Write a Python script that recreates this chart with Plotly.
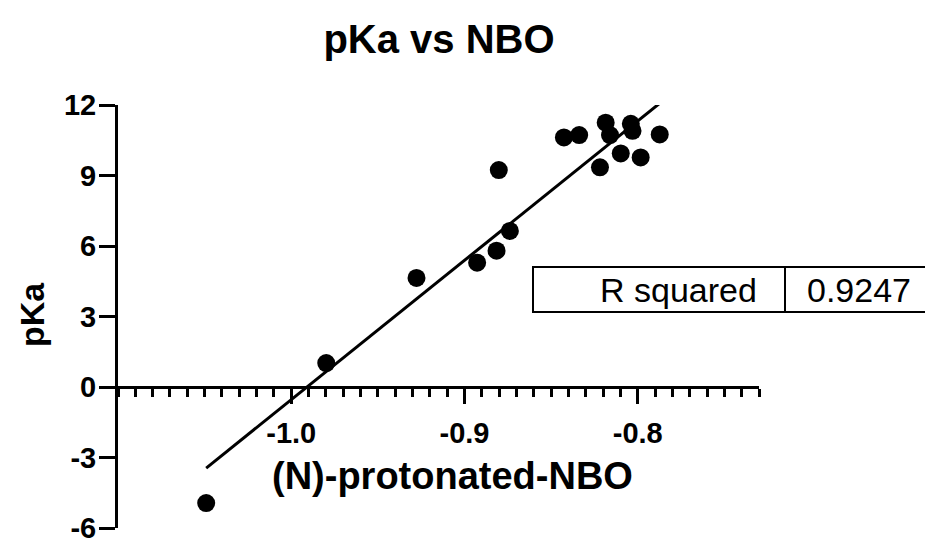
import numpy as np
import plotly.graph_objects as go

# ---- data ----
nbo = [-1.0491, -0.9798, -0.9277, -0.8927, -0.8815, -0.8738, -0.8802, -0.8426, -0.8338,
       -0.8185, -0.8160, -0.8040, -0.8030, -0.7873, -0.8098, -0.7983, -0.8218]
pka = [-4.94, 1.02, 4.64, 5.29, 5.80, 6.64, 9.23, 10.62, 10.72,
       11.25, 10.72, 11.20, 10.90, 10.75, 9.94, 9.77, 9.35]

fit_slope = 59.3
fit_intercept = 58.76
r_squared_label = "R squared"
r_squared_value = "0.9247"

x_tickvals = [-1.0, -0.9, -0.8]
x_ticktext = ["-1.0", "-0.9", "-0.8"]
y_tickvals = [-6, -3, 0, 3, 6, 9, 12]
y_ticktext = ["-6", "-3", "0", "3", "6", "9", "12"]

title_text = "pKa vs NBO"
x_title = "(N)-protonated-NBO"
y_title = "pKa"

FONT = "Liberation Sans, Arial, sans-serif"

fit_x = [min(nbo), max(nbo)]
fit_y = [fit_slope * v + fit_intercept for v in fit_x]

fig = go.Figure()
fig.add_trace(go.Scatter(x=fit_x, y=fit_y, mode="lines",
                         line=dict(color="black", width=3), showlegend=False,
                         hoverinfo="skip", cliponaxis=False))
fig.add_trace(go.Scatter(x=nbo, y=pka, mode="markers",
                         marker=dict(color="black", size=18, line=dict(width=0)),
                         showlegend=False, cliponaxis=False))

minor_vals = [round(v, 2) for v in np.arange(-1.10, -0.7299, 0.01)]

fig.update_layout(
    width=925, height=538, autosize=False,
    margin=dict(l=118, r=166, t=105, b=10),
    paper_bgcolor="white", plot_bgcolor="white",
    font=dict(family=FONT, color="black"),
    title=dict(text="<b>" + title_text + "</b>", x=439 / 925, xref="container", xanchor="center",
               y=1 - 39 / 538, yref="container", yanchor="middle",
               font=dict(size=40, family=FONT, color="black")),
    xaxis=dict(range=[-1.1, -0.73], domain=[0, 1], anchor="free", position=1 / 3,
               automargin=False,
               showline=True, linewidth=3, linecolor="black", mirror=False,
               ticks="outside", ticklen=15, tickwidth=3, tickcolor="black",
               tickmode="array", tickvals=x_tickvals,
               ticktext=["<b>" + t + "</b>" for t in x_ticktext],
               tickfont=dict(size=29, family=FONT, color="black"),
               ticklabelstandoff=4, ticklabeloverflow="allow",
               minor=dict(tickmode="array", tickvals=minor_vals, ticks="outside",
                          ticklen=8, tickwidth=3, tickcolor="black"),
               showgrid=False, zeroline=False),
    yaxis=dict(range=[-6, 12], domain=[0, 1], automargin=False,
               showline=True, linewidth=3, linecolor="black",
               ticks="outside", ticklen=16, tickwidth=3, tickcolor="black",
               tickmode="array", tickvals=y_tickvals,
               ticktext=["<b>" + t + "</b>" for t in y_ticktext],
               tickfont=dict(size=29, family=FONT, color="black"),
               ticklabelstandoff=-3, ticklabeloverflow="allow",
               showgrid=False, zeroline=False),
)

# axis titles
fig.add_annotation(text="<b>" + x_title + "</b>", xref="paper", yref="paper",
                   x=(452 - 118) / 641, y=(528 - 476) / 423, xanchor="center", yanchor="middle",
                   showarrow=False, font=dict(size=38, family=FONT, color="black"))
fig.add_annotation(text="<b>" + y_title + "</b>", xref="paper", yref="paper",
                   x=(32 - 118) / 641, y=(528 - 315) / 423, xanchor="center", yanchor="middle",
                   textangle=-90, showarrow=False,
                   font=dict(size=34, family=FONT, color="black"))

# R squared table
def px_x(p):
    return (p - 118) / 641

def px_y(p):
    return (528 - p) / 423

fig.add_shape(type="rect", xref="paper", yref="paper",
              x0=px_x(533), x1=px_x(940), y0=px_y(312), y1=px_y(267),
              line=dict(color="black", width=2), fillcolor="white", layer="above")
fig.add_shape(type="line", xref="paper", yref="paper",
              x0=px_x(785), x1=px_x(785), y0=px_y(312), y1=px_y(267),
              line=dict(color="black", width=2), layer="above")
fig.add_annotation(text=r_squared_label, xref="paper", yref="paper",
                   x=px_x(759), y=px_y(289.5), xanchor="right", yanchor="middle",
                   showarrow=False, font=dict(size=34, family=FONT, color="black"))
fig.add_annotation(text=r_squared_value, xref="paper", yref="paper",
                   x=px_x(805), y=px_y(289.5), xanchor="left", yanchor="middle",
                   showarrow=False, font=dict(size=34, family=FONT, color="black"))

fig.write_html("out.html")
